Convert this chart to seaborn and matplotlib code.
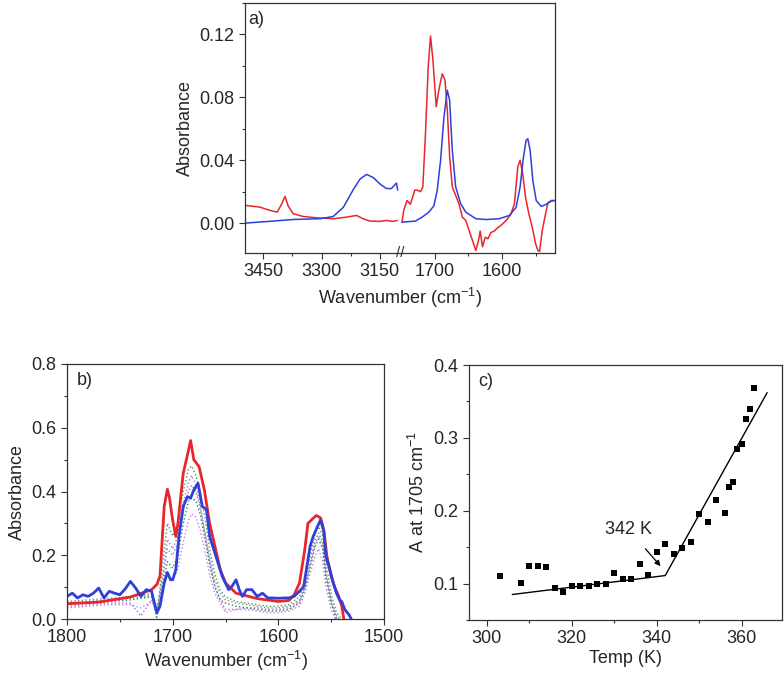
import numpy as np
import pandas as pd
import matplotlib
matplotlib.use("Agg")
import matplotlib.pyplot as plt
from matplotlib.ticker import MultipleLocator, FormatStrFormatter
import seaborn as sns

sns.set_style("ticks")
plt.rcParams['font.family'] = ['Liberation Sans', 'DejaVu Sans']
plt.rcParams['mathtext.fontset'] = 'custom'
plt.rcParams['mathtext.rm'] = 'Liberation Sans'
plt.rcParams['xtick.direction'] = 'out'
plt.rcParams['ytick.direction'] = 'out'

RED = '#e8262b'
BLUE = '#2f3fd8'

# ---- panel a) data, high wavenumber part
a_hi_red_x = [3497, 3459, 3433, 3414, 3403, 3394, 3386, 3373, 3347, 3313, 3270, 3236, 3210,
              3193, 3176, 3150, 3133, 3116, 3105]
a_hi_red_y = [0.0113, 0.0102, 0.0081, 0.0070, 0.0120, 0.0170, 0.0110, 0.0060, 0.0042, 0.0034,
              0.0028, 0.0038, 0.0049, 0.0028, 0.0013, 0.0011, 0.0017, 0.0011, 0.0017]
a_hi_blue_x = [3497, 3441, 3373, 3304, 3270, 3244, 3219, 3201, 3184, 3167, 3150, 3133, 3120, 3107, 3104]
a_hi_blue_y = [0.0, 0.001, 0.0023, 0.0028, 0.0042, 0.010, 0.021, 0.028, 0.031, 0.029, 0.025,
               0.022, 0.022, 0.0255, 0.021]

# ---- panel a) data, low wavenumber part
a_lo_red_x = [1749, 1746.5, 1741.5, 1736.5, 1734, 1730, 1726.5, 1721.5, 1718, 1714, 1710, 1706.5,
              1703, 1698, 1694, 1689, 1685, 1681.5, 1678, 1674, 1669, 1664, 1659, 1654, 1649,
              1644, 1639, 1635, 1632.5, 1629, 1625, 1621, 1616.5, 1611.5, 1606.5, 1601.5, 1596.5,
              1591.5, 1586.5, 1581.5, 1576.5, 1573, 1569, 1565, 1560, 1555, 1550, 1546.5, 1544,
              1540, 1535, 1531.5, 1526.5, 1521.5]
a_lo_red_y = [0.0006, 0.0080, 0.0144, 0.0120, 0.0155, 0.0210, 0.0210, 0.0200, 0.0230, 0.0570,
              0.0990, 0.1190, 0.1040, 0.0740, 0.0850, 0.0950, 0.0910, 0.0720, 0.0420, 0.0230,
              0.0176, 0.0120, 0.0038, 0.0017, -0.0047, -0.0110, -0.0174, -0.0110, -0.0050,
              -0.0150, -0.0090, -0.0100, -0.0060, -0.0050, -0.0030, -0.0015, 0.0006, 0.0028,
              0.0060, 0.0123, 0.0357, 0.0400, 0.0310, 0.0166, 0.0060, -0.0025, -0.0130,
              -0.0174, -0.0180, -0.0047, 0.0060, 0.0130, 0.0144, 0.0144]
a_lo_blue_x = [1749, 1729, 1719, 1709, 1701.5, 1696.5, 1691.5, 1686.5, 1681.5, 1678, 1674, 1669,
               1661.5, 1654, 1639, 1624, 1604, 1589, 1579, 1573, 1568, 1564, 1561.5, 1558, 1554,
               1549, 1541.5, 1534, 1526.5, 1521.5]
a_lo_blue_y = [0.0006, 0.0013, 0.0038, 0.0070, 0.0110, 0.0210, 0.0400, 0.0675, 0.0845, 0.0780,
               0.0460, 0.0230, 0.0123, 0.0070, 0.0028, 0.0023, 0.0028, 0.0049, 0.0100, 0.0230,
               0.0420, 0.0527, 0.0537, 0.0460, 0.0270, 0.0144, 0.0106, 0.0120, 0.0140, 0.0144]

# ---- panel b) data
b_red_x = [1800, 1770, 1740, 1720, 1715, 1712, 1708, 1705, 1703, 1700, 1697, 1695, 1692, 1690,
           1687, 1683, 1680, 1675, 1670, 1665, 1660, 1655, 1650, 1640, 1620, 1600, 1590, 1585,
           1580, 1575, 1572, 1568, 1564, 1560, 1557, 1554, 1550, 1547, 1543, 1540, 1538]
b_red_y = [0.048, 0.053, 0.069, 0.092, 0.108, 0.135, 0.353, 0.407, 0.380, 0.310, 0.259, 0.300,
           0.395, 0.457, 0.500, 0.560, 0.500, 0.478, 0.405, 0.300, 0.228, 0.155, 0.113, 0.081,
           0.064, 0.055, 0.058, 0.076, 0.113, 0.217, 0.300, 0.313, 0.325, 0.317, 0.280, 0.196,
           0.134, 0.103, 0.072, 0.040, 0.0]
b_blue_x = [1800, 1795, 1790, 1785, 1780, 1775, 1770, 1765, 1760, 1755, 1750, 1745, 1740, 1735,
            1730, 1725, 1720, 1715, 1712, 1708, 1705, 1702, 1700, 1697, 1694, 1690, 1686, 1683,
            1680, 1676, 1672, 1668, 1665, 1661, 1657, 1653, 1650, 1647, 1644, 1640, 1637, 1634,
            1630, 1625, 1620, 1615, 1610, 1605, 1600, 1595, 1590, 1585, 1580, 1576, 1573, 1570,
            1567, 1563, 1560, 1557, 1555, 1552, 1548, 1545, 1542, 1540, 1537, 1533, 1531]
b_blue_y = [0.071, 0.081, 0.066, 0.076, 0.071, 0.081, 0.097, 0.066, 0.087, 0.081, 0.076, 0.094,
            0.118, 0.097, 0.071, 0.092, 0.087, 0.019, 0.040, 0.113, 0.146, 0.123, 0.123, 0.155,
            0.259, 0.353, 0.384, 0.379, 0.405, 0.426, 0.353, 0.343, 0.259, 0.217, 0.175, 0.133,
            0.113, 0.092, 0.102, 0.123, 0.092, 0.071, 0.092, 0.092, 0.071, 0.081, 0.066, 0.066,
            0.065, 0.066, 0.066, 0.071, 0.087, 0.102, 0.165, 0.227, 0.259, 0.290, 0.311, 0.275,
            0.196, 0.165, 0.113, 0.081, 0.060, 0.055, 0.029, 0.013, 0.0]

# intermediate temperatures (dotted)
b_mid_x = [1800, 1780, 1760, 1740, 1730, 1720, 1715, 1710, 1705, 1700, 1695, 1690, 1685, 1682,
           1678, 1674, 1670, 1665, 1660, 1655, 1650, 1640, 1630, 1620, 1610, 1600, 1590, 1580,
           1575, 1570, 1565, 1562, 1558, 1555, 1550, 1545, 1540]
b_mid1 = [0.050, 0.055, 0.060, 0.065, 0.070, 0.075, 0.000, 0.160, 0.300, 0.260, 0.300, 0.400,
          0.470, 0.480, 0.450, 0.400, 0.330, 0.220, 0.140, 0.090, 0.070, 0.055, 0.050, 0.045,
          0.040, 0.040, 0.045, 0.070, 0.120, 0.200, 0.270, 0.290, 0.260, 0.180, 0.080, 0.020, 0.0]
b_mid2 = [0.040, 0.045, 0.050, 0.050, 0.010, 0.060, 0.020, 0.120, 0.250, 0.220, 0.260, 0.360,
          0.430, 0.450, 0.420, 0.360, 0.280, 0.180, 0.100, 0.060, 0.030, 0.030, 0.035, 0.035,
          0.030, 0.030, 0.035, 0.055, 0.100, 0.170, 0.240, 0.260, 0.230, 0.140, 0.050, 0.0, -0.02]
b_mid3 = [0.055, 0.060, 0.065, 0.070, 0.075, 0.080, 0.030, 0.120, 0.220, 0.200, 0.240, 0.340,
          0.400, 0.420, 0.400, 0.350, 0.280, 0.190, 0.120, 0.080, 0.060, 0.050, 0.045, 0.040,
          0.035, 0.035, 0.040, 0.060, 0.100, 0.180, 0.250, 0.270, 0.240, 0.150, 0.060, 0.010, -0.01]
b_mid4 = [0.045, 0.050, 0.055, 0.060, 0.065, 0.070, 0.030, 0.100, 0.180, 0.160, 0.200, 0.300,
          0.370, 0.380, 0.370, 0.330, 0.260, 0.170, 0.100, 0.060, 0.050, 0.040, 0.035, 0.030,
          0.025, 0.025, 0.030, 0.050, 0.090, 0.160, 0.230, 0.250, 0.220, 0.130, 0.050, 0.0, -0.02]
b_mid5 = [0.035, 0.040, 0.045, 0.045, 0.035, 0.055, 0.040, 0.090, 0.140, 0.120, 0.160, 0.240,
          0.310, 0.330, 0.320, 0.280, 0.220, 0.140, 0.080, 0.050, 0.020, 0.030, 0.030, 0.025,
          0.020, 0.020, 0.025, 0.040, 0.080, 0.140, 0.200, 0.220, 0.180, 0.100, 0.030, -0.01, -0.03]
b_mid_colors = ['#4aa05a', '#b070d8', '#8a8a9a', '#2f7f6f', '#c080e0']

# ---- panel c) data
temp = [303, 308, 310, 312, 314, 316, 318, 320, 322, 324, 326, 328, 330, 332, 334, 336, 338,
        340, 342, 344, 346, 348, 350, 352, 354, 356, 357, 358, 359, 360, 361, 362, 363]
a1705 = [0.111, 0.101, 0.124, 0.124, 0.123, 0.094, 0.089, 0.096, 0.097, 0.097, 0.099, 0.100,
         0.114, 0.106, 0.106, 0.127, 0.112, 0.143, 0.155, 0.140, 0.149, 0.157, 0.195, 0.184,
         0.215, 0.197, 0.233, 0.239, 0.285, 0.291, 0.326, 0.339, 0.369]
fit_x = [306, 342, 366]
fit_y = [0.085, 0.111, 0.362]

fig = plt.figure(figsize=(7.84, 6.76), dpi=100)
FS = 13


def style(ax):
    ax.tick_params(axis='both', which='major', length=4, width=0.8, labelsize=FS, color='#333333')
    ax.tick_params(axis='both', which='minor', length=2.5, width=0.8, color='#333333')
    for s in ax.spines.values():
        s.set_linewidth(0.9)
        s.set_color('#333333')


# panel a, broken axis
W = 155 / 784
axL = fig.add_axes([245 / 784, 1 - 253 / 676, W, 250 / 676])
axR = fig.add_axes([400 / 784, 1 - 253 / 676, W, 250 / 676], sharey=axL)
sns.lineplot(x=a_hi_red_x, y=a_hi_red_y, ax=axL, color=RED, lw=1.1, sort=False, estimator=None)
sns.lineplot(x=a_hi_blue_x, y=a_hi_blue_y, ax=axL, color=BLUE, lw=1.1, sort=False, estimator=None)
sns.lineplot(x=a_lo_red_x, y=a_lo_red_y, ax=axR, color=RED, lw=1.1, sort=False, estimator=None)
sns.lineplot(x=a_lo_blue_x, y=a_lo_blue_y, ax=axR, color=BLUE, lw=1.1, sort=False, estimator=None)
axL.set_xlim(3497, 3098)
axR.set_xlim(1752, 1521)
axL.set_ylim(-0.019, 0.14)
axL.yaxis.set_major_locator(MultipleLocator(0.04))
axL.yaxis.set_minor_locator(MultipleLocator(0.02))
axL.yaxis.set_major_formatter(FormatStrFormatter('%.2f'))
axL.set_xticks([3450, 3300, 3150])
axL.set_xticks([3375, 3225], minor=True)
axR.set_xticks([1700, 1600])
axR.set_xticks([1650, 1550], minor=True)
for ax in (axL, axR):
    style(ax)
axL.spines['right'].set_visible(False)
axR.spines['left'].set_visible(False)
axR.tick_params(axis='y', which='both', left=False, labelleft=False)
axL.set_ylabel('Absorbance', fontsize=FS, labelpad=4)
axL.set_xlabel('')
axR.set_xlabel('')
fig.text(400 / 784, 1 - 286 / 676, 'Wavenumber (cm$^{-1}$)', ha='center', va='top', fontsize=FS)
fig.text(400 / 784, 1 - 253 / 676, '//', ha='center', va='center', fontsize=11, color='#333333')
axL.text(0.02, 0.97, 'a)', transform=axL.transAxes, ha='left', va='top', fontsize=FS)

# panel b
axB = fig.add_axes([67 / 784, 1 - 619 / 676, 317 / 784, 255 / 676])
mids = [b_mid1, b_mid2, b_mid3, b_mid4, b_mid5]
for ys, c in zip(mids, b_mid_colors):
    sns.lineplot(x=b_mid_x, y=ys, ax=axB, color=c, lw=1.0, ls=':', sort=False, estimator=None)
sns.lineplot(x=b_red_x, y=b_red_y, ax=axB, color=RED, lw=2.0, sort=False, estimator=None)
sns.lineplot(x=b_blue_x, y=b_blue_y, ax=axB, color=BLUE, lw=2.0, sort=False, estimator=None)
axB.set_xlim(1800, 1500)
axB.set_ylim(0, 0.8)
axB.xaxis.set_major_locator(MultipleLocator(100))
axB.xaxis.set_minor_locator(MultipleLocator(50))
axB.yaxis.set_major_locator(MultipleLocator(0.2))
axB.yaxis.set_minor_locator(MultipleLocator(0.1))
axB.yaxis.set_major_formatter(FormatStrFormatter('%.1f'))
style(axB)
axB.set_xlabel('Wavenumber (cm$^{-1}$)', fontsize=FS, labelpad=2)
axB.set_ylabel('Absorbance', fontsize=FS, labelpad=4)
axB.text(0.03, 0.97, 'b)', transform=axB.transAxes, ha='left', va='top', fontsize=FS)

# panel c
axC = fig.add_axes([469 / 784, 1 - 620 / 676, 313 / 784, 255 / 676])
sns.lineplot(x=fit_x, y=fit_y, ax=axC, color='black', lw=1.0, sort=False, estimator=None)
sns.scatterplot(x=temp, y=a1705, ax=axC, marker='s', s=16, color='black', edgecolor='black',
                linewidth=0)
axC.set_xlim(295.8, 369.5)
axC.set_ylim(0.05, 0.4)
axC.xaxis.set_major_locator(MultipleLocator(20))
axC.xaxis.set_minor_locator(MultipleLocator(10))
axC.yaxis.set_major_locator(MultipleLocator(0.1))
axC.yaxis.set_minor_locator(MultipleLocator(0.05))
axC.yaxis.set_major_formatter(FormatStrFormatter('%.1f'))
style(axC)
axC.set_xlabel('Temp (K)', fontsize=FS, labelpad=2)
axC.set_ylabel('A at 1705 cm$^{-1}$', fontsize=FS, labelpad=4)
axC.text(0.03, 0.97, 'c)', transform=axC.transAxes, ha='left', va='top', fontsize=FS)
axC.annotate('342 K', xy=(340.9, 0.124), xytext=(333.4, 0.174), ha='center', va='center',
             fontsize=FS, arrowprops=dict(arrowstyle='-|>', color='black', lw=0.9,
                                          mutation_scale=8, shrinkA=7, shrinkB=0))

fig.savefig('out.png', dpi=100)
